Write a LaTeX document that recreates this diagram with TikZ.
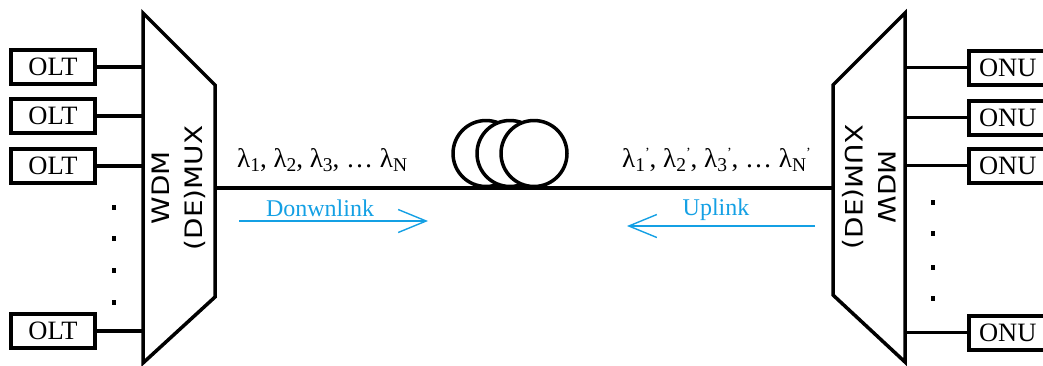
\documentclass[tikz,border=0pt]{standalone}
\usepackage{fontspec}
\setmainfont{Liberation Serif}
\newfontfamily\wdmfont{DejaVu Sans}
\usetikzlibrary{arrows.meta}
\definecolor{linkblue}{RGB}{20,160,228}
\newcommand{\lsub}[1]{\raisebox{-4pt}{\fontsize{19.5}{19.5}\selectfont #1}}
\newcommand{\lprime}{\raisebox{10pt}{\fontsize{14}{14}\selectfont ’}}
\begin{document}
\begin{tikzpicture}[x=1pt,y=-1pt,
  termbox/.style={draw, line width=4pt, minimum width=84pt, minimum height=34pt, inner sep=0pt, font=\fontsize{26.5}{28}\selectfont},
  onubox/.style={draw, line width=4pt, text width=76pt, align=left, inner xsep=10pt, inner ysep=0pt, minimum height=34pt, anchor=west, font=\fontsize{26.5}{28}\selectfont},
  mux/.style={line width=3.5pt, line join=miter},
  link/.style={line width=4pt},
  stub/.style={line width=3.5pt},
  coilring/.style={draw, fill=white, circle, line width=3.5pt, minimum size=66pt, inner sep=0pt},
  dotmark/.style={fill, minimum width=4pt, minimum height=5pt, inner sep=0pt},
  lam/.style={font=\fontsize{27}{29}\selectfont, inner sep=0pt},
  dirarrow/.style={draw=linkblue, line width=1.4pt, -{Straight Barb[length=28pt,width=23pt]}},
  dirlabel/.style={text=linkblue, font=\fontsize{24}{26}\selectfont, inner sep=0pt},
  muxlabel/.style={font=\wdmfont\fontsize{24}{33}\selectfont, align=center, inner sep=0pt}
]
\useasboundingbox (0,0) rectangle (1043,365);
\clip (0,0) rectangle (1043,365);

% multiplexers
\coordinate (muxL) at (143,13);
\coordinate (muxLout) at (215,188);
\coordinate (muxR) at (905,13);
\coordinate (muxRin) at (833,188);
\draw[mux] (143,13) -- (215,85) -- (215,297) -- (143,363) -- cycle;
\draw[mux] (905,13) -- (833,85) -- (833,295) -- (905,362) -- cycle;
\node[muxlabel, rotate=90, xscale=1.16] (wdmL) at (179,188) {WDM\\(DE)MUX};
\node[muxlabel, rotate=90, yscale=-1, xscale=1.16] (wdmR) at (869,187) {WDM\\(DE)MUX};

% OLTs
\node[termbox] (olt1) at (53,67) {OLT};
\node[termbox] (olt2) at (53,116) {OLT};
\node[termbox] (olt3) at (53,166) {OLT};
\node[termbox] (olt4) at (53,331) {OLT};
\foreach \n in {1,2,3,4} \draw[stub] (olt\n.east) -- (olt\n.east -| muxL);
\node[dotmark] (dl1) at (114,207) {};
\node[dotmark] (dl2) at (114,238) {};
\node[dotmark] (dl3) at (114,270) {};
\node[dotmark] (dl4) at (114,302) {};

% ONUs
\node[onubox] (onu1) at (967,67.5) {ONU};
\node[onubox] (onu2) at (967,117.5) {ONU};
\node[onubox] (onu3) at (967,165.5) {ONU};
\node[onubox] (onu4) at (967,332.5) {ONU};
\foreach \n in {1,2,3,4} \draw[stub] (onu\n.west) -- (onu\n.west -| muxR);
\node[dotmark] (dr1) at (933,202) {};
\node[dotmark] (dr2) at (933,233) {};
\node[dotmark] (dr3) at (933,267) {};
\node[dotmark] (dr4) at (933,298) {};

% fibre and coil
\draw[link] (muxLout) -- (muxRin);
\node[coilring] (coil1) at (486,153.5) {};
\node[coilring] (coil2) at (510,153.5) {};
\node[coilring] (coil3) at (534,153.5) {};

% wavelength labels
\node[lam, anchor=base west] (lamdown) at (237,167) {λ\lsub{1}, λ\lsub{2}, λ\lsub{3}, … λ\lsub{N}};
\node[lam, anchor=base east] (lamup) at (811,167) {λ\lsub{1}\lprime, λ\lsub{2}\lprime, λ\lsub{3}\lprime, … λ\lsub{N}\lprime};

% direction arrows
\coordinate (dnS) at (239,221);
\coordinate (dnE) at (428,221);
\coordinate (upS) at (815,226);
\coordinate (upE) at (627,226);
\draw[dirarrow] (dnS) -- (dnE);
\draw[dirarrow] (upS) -- (upE);
\node[dirlabel] (dnlab) at (320,208) {Donwnlink};
\node[dirlabel] (uplab) at (716,210) {Uplink};
\end{tikzpicture}
\end{document}
